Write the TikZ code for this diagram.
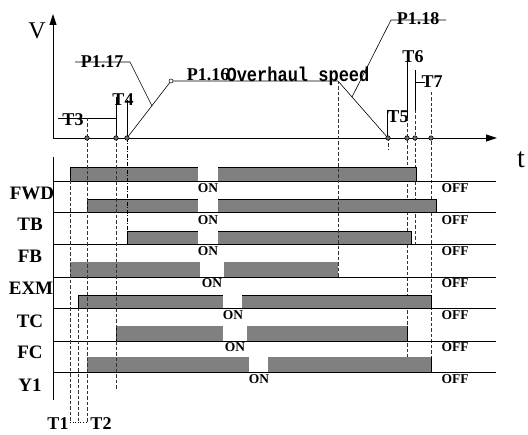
\documentclass[tikz,border=0pt]{standalone}
\usepackage{fontspec}
\setmainfont{Liberation Serif}
\newfontfamily\monofont{Liberation Mono}
\usetikzlibrary{arrows.meta}
\definecolor{bargray}{HTML}{808080}
\definecolor{dotgray}{HTML}{707070}
\begin{document}
\begin{tikzpicture}[x=1pt,y=-1pt,
  lbl/.style={font=\bfseries\fontsize{18}{18}\selectfont, inner sep=0},
  chan/.style={font=\bfseries\fontsize{19}{19}\selectfont, inner sep=0},
  onoff/.style={font=\bfseries\fontsize{13.5}{13.5}\selectfont, inner sep=0},
  axis/.style={line width=0.9pt, -{Triangle[length=11pt,width=7pt]}},
  thin/.style={line width=0.6pt},
  dsh/.style={line width=0.6pt, dash pattern=on 3.5pt off 2pt, black!80},
  barfill/.style={fill=bargray},
  barline/.style={line width=0.6pt, black},
  chline/.style={line width=0.8pt, black},
  tdot/.style={circle, draw=black, fill=dotgray, line width=0.6pt, minimum size=4.4pt, inner sep=0}
]
\useasboundingbox (0,0) rectangle (528,435);
\fill[white] (0,0) rectangle (528,435);

% ---------- speed profile ----------
\coordinate (O) at (53,138);
\coordinate (Ytop) at (53,14);
\coordinate (Xend) at (497,138);
\draw[axis] (O) -- (Ytop);
\draw[axis] (O) -- (Xend);
\node[font=\fontsize{24}{24}\selectfont, inner sep=0] (V) at (37,31) {V};
\node[font=\fontsize{28}{28}\selectfont, inner sep=0] (t) at (521,160) {t};

\coordinate (A) at (127,138);
\coordinate (B) at (171,81);
\coordinate (C) at (338,81);
\coordinate (D) at (388,138);
\draw[thin] (A) -- (B) -- (C) -- (D);
\node[circle, draw=black, fill=white, line width=0.5pt, minimum size=4pt, inner sep=0] (Bc) at (B) {};

% leaders
\coordinate (L1a) at (75,62); \coordinate (L1b) at (130,62); \coordinate (L1c) at (152,106);
\draw[thin] (L1a) -- (L1b) -- (L1c);
\node[lbl] (p117) at (102,62) {P1.17};
\coordinate (L2a) at (446,20); \coordinate (L2b) at (391,20); \coordinate (L2c) at (352,97);
\draw[thin] (L2a) -- (L2b) -- (L2c);
\node[lbl] (p118) at (418,19) {P1.18};
\node[lbl] (p116) at (208,75) {P1.16};
\node[inner sep=0] (ovs) at (298,76) {\scalebox{0.85}[1]{\monofont\bfseries\fontsize{20}{20}\selectfont Overhaul speed}};

% T3 / T4
\node[lbl] (T3) at (73,120) {T3};
\draw[thin] (58,118) -- (116,118);
\draw[dsh] (87,118) -- (87,138);
\draw[thin] (116,97) -- (116,138);
\draw[thin] (127,100) -- (127,138);
\node[lbl] (T4) at (123,100) {T4};

% T5 / T6 / T7
\draw[thin] (387,110) -- (387,138);
\draw[thin] (387,110) -- (394,110);
\node[lbl] (T5) at (398,117) {T5};
\draw[thin] (407,56) -- (407,118);
\draw[dsh] (407,118) -- (407,372);
\node[lbl] (T6) at (413,57) {T6};
\draw[thin] (415,82) -- (425,82);
\draw[thin] (415,70) -- (415,110);
\draw[dsh] (415,110) -- (415,244);
\node[lbl] (T7) at (432,82) {T7};
\draw[dsh] (431,92) -- (431,372);

% ---------- timing bars ----------
% FWD
\fill[barfill] (70,167) rectangle (416,181);
\draw[barline] (70,181) -- (70,167) -- (416,167) -- (416,181);
\fill[white] (198,167.4) rectangle (218,180.6);
% TB
\fill[barfill] (87,199) rectangle (436,212);
\draw[barline] (87,212) -- (87,199) -- (436,199) -- (436,212);
\fill[white] (198,199.4) rectangle (218,211.6);
% FB
\fill[barfill] (127,231) rectangle (411,244);
\draw[barline] (127,244) -- (127,231) -- (411,231) -- (411,244);
\fill[white] (198,231.4) rectangle (218,243.6);
% EXM
\fill[barfill] (70,262) rectangle (338,277);
\fill[white] (200,262) rectangle (224,276.6);
% TC
\fill[barfill] (78,295) rectangle (431,308);
\draw[barline] (78,308) -- (78,295) -- (431,295) -- (431,308);
\fill[white] (223,295.4) rectangle (242,307.6);
% FC
\fill[barfill] (116,326) rectangle (407,341);
\draw[barline] (116,341) -- (116,326);
\draw[barline] (407,326) -- (407,341);
\fill[white] (223,326) rectangle (247,340.6);
% Y1
\fill[barfill] (87,357) rectangle (431,372);
\draw[barline] (431,357) -- (431,372);
\fill[white] (249,357) rectangle (268,371.6);

% channel lines and lower axis
\draw[line width=0.9pt] (53,157) -- (53,400);
\foreach \yy in {181,212,244,277,308,341,372}
  \draw[chline] (53,\yy) -- (496,\yy);

% vertical dashed timing lines
\draw[dsh] (70,181) -- (70,422);
\draw[dsh] (78,308) -- (78,422);
\draw[dsh] (87,138) -- (87,422);
\draw[dsh] (116,138) -- (116,390);
\draw[line width=0.6pt, dash pattern=on 4pt off 1.5pt on 1pt off 1.5pt] (127,138) -- (127,231);
\draw[dsh] (338,81) -- (338,277);
\draw[dsh] (388,138) -- (388,150);

% dots on time axis
\foreach \xx/\nm in {87/d1,116/d2,127/d3,388/d4,407/d5,415/d6,431/d7}
  \node[tdot] (\nm) at (\xx,138) {};

% T1 / T2
\draw[line width=0.6pt, dotted] (70,422) -- (87,422);
\node[lbl] (T1) at (58,424) {T1};
\node[lbl] (T2) at (101,424) {T2};

% channel labels
\node[chan] (FWD) at (32,193) {FWD};
\node[chan] (TB) at (30,224) {TB};
\node[chan] (FB) at (30,256) {FB};
\node[chan] (EXM) at (31,288) {EXM};
\node[chan] (TC) at (30,321) {TC};
\node[chan] (FC) at (30,352) {FC};
\node[chan] (Y1) at (30,385) {Y1};

% ON labels
\node[onoff] (on1) at (208,188) {ON};
\node[onoff] (on2) at (208,220) {ON};
\node[onoff] (on3) at (208,251) {ON};
\node[onoff] (on4) at (212,283) {ON};
\node[onoff] (on5) at (233,315) {ON};
\node[onoff] (on6) at (235,347) {ON};
\node[onoff] (on7) at (259,379) {ON};

% OFF labels
\foreach \yy/\nm in {188/f1,220/f2,251/f3,283/f4,315/f5,347/f6,379/f7}
  \node[onoff] (\nm) at (455,\yy) {OFF};
\end{tikzpicture}
\end{document}
